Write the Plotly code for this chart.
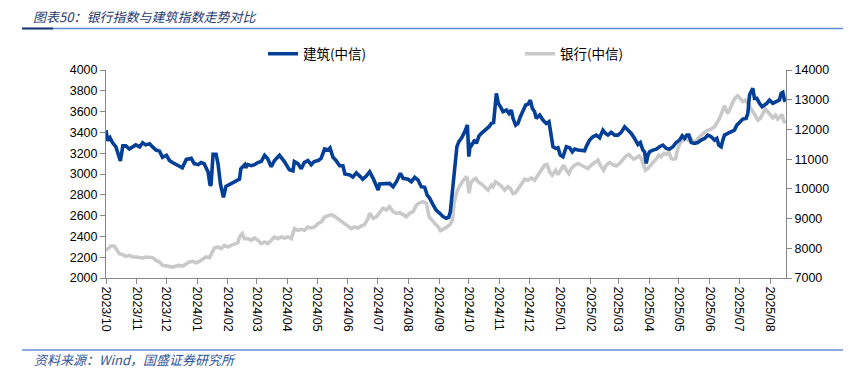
import pandas as pd
import plotly.graph_objects as go

# ---------------- data ----------------
base_date = "2023-10-09"   # first trading day shown
end_day = 686              # axis end (days after base_date)

# 建筑(中信) – left axis; x = days after base_date
build_day = [0, 1.7, 4, 6.7, 10, 13.5, 14.5, 17, 20, 23.6, 27, 30, 34, 37, 40, 44, 47, 50.5, 54, 57,
             61, 64, 67, 71, 74, 77, 81, 86, 89, 93, 96, 99, 103, 105, 106, 108, 111, 113, 115.5, 118.5,
             121, 124.6, 129.6, 134.7, 136, 140, 141, 143, 146.5, 150, 153, 156.6, 160, 163, 166.7, 170,
             175, 180, 185, 188.6, 190, 193.6, 197, 200, 203.7, 207, 210, 214, 217, 220.5, 224, 226, 229,
             232, 235.7, 239, 241, 246, 249, 252.5, 256, 259, 262.6, 266, 269.5, 273, 274.5, 276, 281, 286,
             289.6, 293, 297, 299.7, 304.7, 308, 311.5, 314.8, 318, 321.5, 324, 326.6, 330, 333, 336.7, 340,
             343.4, 345.7, 347.4, 349.5, 351.8, 354, 356, 358.5, 362, 364.6, 366, 367.6, 369, 372, 373.7,
             376.3, 378.7, 381, 383.7, 386.4, 388.8, 391, 393.8, 395.8, 397.9, 400.5, 404,
             406.6, 408.9, 410.6, 413.3, 415.6, 418, 420.7, 423.4, 425.7, 428.1, 430.1, 432.4, 434.1, 437.5,
             440.8, 444.2, 446.9, 449.2, 450.9, 453.6, 456, 458.3, 461, 464.4, 467.7, 470.4, 472.8, 476.1,
             479.5, 482.8, 485.2, 487.9, 491.2, 494.6, 498, 501.3, 504, 506.4, 509.7, 513.1, 516.4, 519.8,
             523.2, 526.5, 529.9, 533.2, 536.6, 539, 541.6, 543.3, 545, 546.7, 548.4, 551.7, 555.1, 558.4,
             561.8, 565.2, 568.5, 571.9, 575.2, 578.6, 581.3, 583.6, 586, 588, 590.4, 593.7, 597.1, 600.4,
             603.8, 607.2, 610.5, 613.9, 616.2, 618.2, 620.6, 622.3, 624, 627.3, 630.7, 634, 636.4, 639.1,
             642.4, 645.8, 647.5, 649.2, 650.8, 652.5, 654.2, 656.6, 659.2, 661.9, 664.3, 666.6, 669.3,
             672.7, 676, 679.4, 681.1, 682.8, 684.4, 685.4]
build_val = [3420, 3320, 3350, 3300, 3260, 3160, 3125, 3270, 3270, 3240, 3260, 3280, 3260, 3300, 3280, 3290,
             3260, 3230, 3220, 3160, 3180, 3130, 3110, 3090, 3080, 3060, 3140, 3150, 3100, 3090, 3110, 3100,
             3020, 2890, 2900, 3190, 3190, 3100, 2900, 2775, 2880, 2900, 2920, 2950, 3050, 3090, 3060, 3090,
             3080, 3090, 3110, 3120, 3180, 3150, 3070, 3130, 3180, 3120, 3040, 3030, 3120, 3100, 3050, 3110,
             3130, 3090, 3120, 3130, 3150, 3240, 3230, 3250, 3160, 3130, 3080, 3080, 3000, 2990, 2970, 3010,
             2980, 2950, 2980, 3022, 2958, 2878, 2846, 2904, 2904, 2910, 2878, 2926, 3007, 2958, 2949, 2926,
             2968, 2942, 2878, 2872, 2798, 2766, 2702, 2654, 2622, 2590, 2574, 2583, 2638, 2814, 3007, 3263,
             3311, 3343, 3407, 3471, 3167, 3295, 3279, 3327, 3295, 3366, 3391, 3407, 3430, 3455, 3487, 3494,
             3776, 3679, 3647, 3599, 3615,
             3583, 3615, 3535, 3470, 3486, 3551, 3599, 3663, 3670, 3711, 3631, 3599, 3535, 3567, 3519, 3486,
             3502, 3390, 3262, 3246, 3252, 3181, 3165, 3262, 3252, 3214, 3239, 3230, 3230, 3223, 3278, 3326,
             3358, 3374, 3348, 3422, 3390, 3374, 3400, 3374, 3374, 3400, 3454, 3422, 3390, 3342, 3284, 3303,
             3230, 3214, 3101, 3181, 3214, 3230, 3239, 3262, 3278, 3246, 3239, 3262, 3303, 3326, 3367, 3342,
             3374, 3374, 3303, 3294, 3303, 3326, 3342, 3374, 3358, 3326, 3342, 3278, 3262, 3326, 3374, 3390,
             3406, 3422, 3470, 3502, 3528, 3535, 3583, 3759, 3798, 3823, 3727, 3727, 3679, 3647, 3663, 3679,
             3711, 3679, 3695, 3711, 3775, 3785, 3711, 3695]

# 银行(中信) – right axis
bank_day = [0, 1.7, 5, 8.4, 10.8, 13.5, 16.8, 20.2, 23.6, 27, 30.3, 33.7, 37, 40.4, 43.8, 47.1, 50.5, 53.9,
            57.2, 60.6, 64, 67.3, 70.7, 74, 77.4, 80.8, 84.2, 87.5, 90.9, 94.3, 97.6, 101, 104.4, 107, 109.4,
            112.8, 116.2, 119.5, 122.9, 126.3, 129.6, 133, 134.7, 137.4, 139.7, 143.1, 146.5, 149.8, 153.2,
            156.6, 159.9, 163.3, 166.7, 170, 173.4, 176.8, 180.1, 183.5, 186.9, 190.2, 193.6, 197, 200.3,
            203.7, 207.1, 210.4, 213.8, 217.2, 220.5, 223.9, 227.3, 230.6, 234, 237.4, 240.7, 244.1, 247.5,
            250.8, 254.2, 257.6, 260.9, 264.3,
            266, 269.5, 273, 276, 279.5, 283, 286, 289.6, 293, 296.4, 299.7, 303, 306.4, 309.8, 313.2, 316.5,
            319.9, 323.2, 325.9, 328.3, 331.6, 335, 337.4, 340, 343.4, 346.8, 349.5, 351.1, 353.5, 356.2,
            359.5, 362.9, 364.6, 366.2, 367.9, 370.3, 373, 375.3, 378.7, 382, 385.4, 388.8, 390.4, 393, 395.4,
            398.9, 402.2, 405.5,
            407.9, 410.6, 413.3, 415.6, 419, 422.4, 425.7, 429.1, 432.4, 435.8, 439.2, 442.5, 444.9, 447.6,
            450.2, 453.6, 456, 459.3, 461.7, 464.4, 467, 469.4, 472.8, 476.1, 479.5, 482.8, 486.2, 489.6,
            492.9, 496.3, 498.6, 502, 504.7, 508, 511.4, 514.8, 518.1, 521.5, 524.8, 527.5, 529.9, 532.2,
            534.9, 537.6, 540, 542.3, 544.3, 546.7, 549, 551.7, 555.1, 557.8, 560.1, 562.5, 565.2, 567.8,
            570.2, 572.5, 574.6, 576.9, 579.3, 582, 584.6, 587, 589.4, 592, 594.7, 597.1, 600.4, 603.8, 607.2,
            610.5, 613.9, 616.2, 618.9, 621.6, 624, 625.6, 627.3, 629.7, 632.4, 635, 637.4, 639.8, 642.4,
            645.1, 647.5, 649.8, 652.5, 655.2, 657.6, 659.9, 662.6, 665.3, 667.6, 670, 672.7, 675.4, 677.7,
            680.1, 682.1, 683.4, 685.4]
bank_val = [7930, 7987, 8077, 8077, 7930, 7818, 7784, 7728, 7762, 7706, 7706, 7683, 7672, 7706, 7683, 7683,
            7593, 7537, 7424, 7402, 7402, 7368, 7402, 7424, 7402, 7481, 7537, 7560, 7515, 7560, 7650, 7706,
            7683, 7874, 8009, 8043, 7987, 8099, 8043, 8099, 8156, 8189, 8380, 8492, 8324, 8324, 8268, 8346,
            8268, 8156, 8212, 8156, 8268, 8380, 8324, 8380, 8346, 8380, 8324, 8661, 8605, 8639, 8605, 8717,
            8684, 8717, 8830, 8886, 9054, 9088, 9133, 9077, 8998, 8886, 8830, 8751, 8661, 8717, 8684, 8751,
            8796, 8998,
            9177, 9009, 9065, 9200, 9345, 9290, 9402, 9233, 9177, 9200, 9121, 9065, 9177, 9233, 9456, 9531,
            9569, 9514, 9065, 8952, 8840, 8727, 8593, 8637, 8705, 8783, 8952, 9514, 9850, 10072, 10241, 10387,
            10353, 9850, 10185, 10297, 10353, 10241, 10162, 10072, 9960, 10128, 10072, 10241, 10185, 10095,
            9960, 10072,
            10010, 9841, 9875, 9987, 10178, 10325, 10291, 10370, 10291, 10459, 10628, 10797, 10819, 10572,
            10459, 10628, 10482, 10684, 10797, 10628, 10516, 10684, 10797, 10853, 10797, 10740, 10684, 10797,
            10887, 10966, 10797, 10628, 10797, 10887, 10819, 10774, 10853, 10999, 11111, 11156, 11078, 10999,
            11044, 11111, 11021, 10797, 10628, 10684, 10797, 10887, 10999, 11134, 11078, 11190, 11156, 11246,
            11021, 10999, 11021, 11359, 11561, 11640, 11696, 11640, 11718, 11606, 11561, 11696, 11808, 11898,
            11977, 12010, 12089, 12202, 12370, 12595, 12797, 12651, 12539, 12707, 12932, 13067, 13134, 13044,
            12932, 12988, 12842, 12707, 12595, 12460, 12314, 12370, 12539, 12685, 12595, 12483, 12393, 12483,
            12348, 12426, 12505, 12314, 12202]

assert len(build_day) == len(build_val), (len(build_day), len(build_val))
assert len(bank_day) == len(bank_val), (len(bank_day), len(bank_val))

series_names = ["建筑(中信)", "银行(中信)"]
title_text = "图表50：银行指数与建筑指数走势对比"
source_text = "资料来源：Wind，国盛证券研究所"
left_range = [2000, 4000]
right_range = [7000, 14000]

# ---------------- figure ----------------
base = pd.Timestamp(base_date)
build_x = base + pd.to_timedelta(build_day, unit="D")
bank_x = base + pd.to_timedelta(bank_day, unit="D")
tick_dates = [base + pd.DateOffset(months=i) for i in range(23)]
tick_text = [d.strftime("%Y/%m") for d in tick_dates]

# the page body has an 8px default margin: size the figure so that the
# plot area lands at page pixels x 106..786, y 70..278
OFF = 8
PAGE_W, PAGE_H = 851, 374
PL, PR, PT, PB = 106, 786, 70, 278          # plot area in page pixels
W, H = PAGE_W - OFF, PAGE_H - OFF
L, T = PL - OFF, PT - OFF
R, B = PAGE_W - PR, PAGE_H - PB
pw, ph = PR - PL, PB - PT


def px_x(p):
    return (p - PL) / pw


def px_y(p):
    return (PB - p) / ph


BLUE = "#033E97"
GRAY = "#C9C9C9"
AX = "#868686"
tickfont = dict(family="Liberation Sans, Arial, sans-serif", size=12.5, color="#000000")
cjk = "Noto Sans CJK SC, sans-serif"

fig = go.Figure()
fig.add_trace(go.Scatter(x=bank_x, y=bank_val, name=series_names[1], mode="lines",
                         line=dict(color=GRAY, width=3.6), yaxis="y", legend="legend2"))
fig.add_trace(go.Scatter(x=build_x, y=build_val, name=series_names[0], mode="lines",
                         line=dict(color=BLUE, width=3.6), yaxis="y2", legend="legend"))

axis_common = dict(showgrid=False, zeroline=False, showline=True, linecolor=AX, linewidth=1,
                   ticks="outside", ticklen=5, tickcolor=AX, tickfont=tickfont)

fig.update_layout(
    width=W, height=H, autosize=False,
    margin=dict(l=L, r=R, t=T, b=B, autoexpand=False),
    paper_bgcolor="white", plot_bgcolor="white",
    xaxis=dict(type="date", range=[base, base + pd.Timedelta(days=end_day)],
               tickmode="array", tickvals=tick_dates, ticktext=tick_text, tickangle=90,
               **axis_common),
    yaxis=dict(side="right", range=right_range, tick0=7000, dtick=1000, tickformat="d",
               **axis_common),
    yaxis2=dict(side="left", overlaying="y", range=left_range, tick0=2000, dtick=200,
                tickformat="d", **axis_common),
    legend=dict(x=px_x(263), y=px_y(54), xanchor="left", yanchor="middle", orientation="h",
                font=dict(family=cjk, size=13.5, color="#000000"), bgcolor="rgba(0,0,0,0)"),
    legend2=dict(x=px_x(520), y=px_y(54), xanchor="left", yanchor="middle", orientation="h",
                 font=dict(family=cjk, size=13.5, color="#000000"), bgcolor="rgba(0,0,0,0)"),
    showlegend=True,
)

fig.add_annotation(text=title_text, xref="paper", yref="paper", x=px_x(32), y=px_y(16),
                   xanchor="left", yanchor="middle", showarrow=False, borderpad=0,
                   font=dict(family=cjk, size=13, color="#1F3A70", style="italic"))
fig.add_annotation(text=source_text, xref="paper", yref="paper", x=px_x(32), y=px_y(359),
                   xanchor="left", yanchor="middle", showarrow=False,
                   font=dict(family=cjk, size=13, color="#2F5597", style="italic"))

# header / footer rules
fig.add_shape(type="line", xref="paper", yref="paper", x0=px_x(22), x1=px_x(851),
              y0=px_y(28.5), y1=px_y(28.5), line=dict(color="#5B8AD0", width=1.5))
fig.add_shape(type="line", xref="paper", yref="paper", x0=px_x(22), x1=px_x(53),
              y0=px_y(28.5), y1=px_y(28.5), line=dict(color="#1F3A70", width=2))
fig.add_shape(type="line", xref="paper", yref="paper", x0=px_x(22), x1=px_x(851),
              y0=px_y(350), y1=px_y(350), line=dict(color="#8FAADC", width=2))

fig.write_html("out.html")
